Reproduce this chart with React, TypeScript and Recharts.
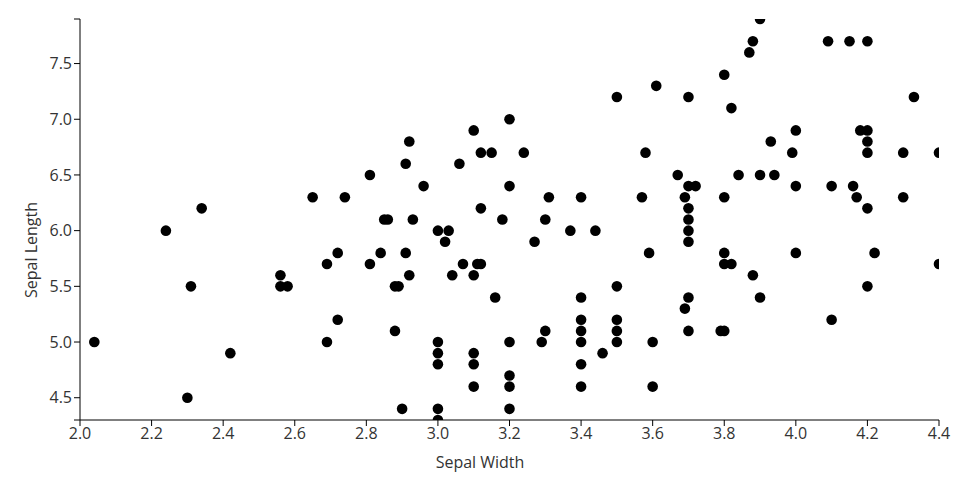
import React from 'react';
import { ScatterChart, Scatter, XAxis, YAxis, Label } from 'recharts';

// sepal width (slightly jittered) / sepal length
const sepalWidth = [
  2.04, 2.24, 2.30, 2.31, 2.34, 2.42, 2.56, 2.56, 2.58, 2.65,
  2.69, 2.69, 2.72, 2.72, 2.74, 2.81, 2.81, 2.84, 2.85, 2.86,
  2.88, 2.89, 2.88, 2.90, 2.91, 2.91, 2.92, 2.92, 2.93, 2.96,
  3.00, 3.00, 3.00, 3.00, 3.00, 3.00, 3.02, 3.03, 3.04, 3.06,
  3.07, 3.10, 3.10, 3.10, 3.10, 3.10, 3.11, 3.12, 3.12, 3.12,
  3.15, 3.16, 3.18, 3.20, 3.20, 3.20, 3.20, 3.20, 3.20, 3.24,
  3.27, 3.29, 3.30, 3.30, 3.31, 3.37, 3.40, 3.40, 3.40, 3.40,
  3.40, 3.40, 3.40, 3.44, 3.46, 3.50, 3.50, 3.50, 3.50, 3.50,
  3.57, 3.58, 3.59, 3.60, 3.60, 3.61, 3.67, 3.69, 3.69, 3.70,
  3.70, 3.70, 3.70, 3.70, 3.70, 3.70, 3.70, 3.72, 3.79, 3.80,
  3.80, 3.80, 3.80, 3.80, 3.82, 3.82, 3.84, 3.87, 3.88, 3.88,
  3.90, 3.90, 3.90, 3.93, 3.94, 3.99, 4.00, 4.00, 4.00, 4.09,
  4.10, 4.10, 4.15, 4.16, 4.17, 4.18, 4.20, 4.20, 4.20, 4.20,
  4.20, 4.20, 4.22, 4.30, 4.30, 4.33, 4.40, 4.40,
];

const sepalLength = [
  5.0, 6.0, 4.5, 5.5, 6.2, 4.9, 5.6, 5.5, 5.5, 6.3,
  5.7, 5.0, 5.8, 5.2, 6.3, 6.5, 5.7, 5.8, 6.1, 6.1,
  5.5, 5.5, 5.1, 4.4, 6.6, 5.8, 6.8, 5.6, 6.1, 6.4,
  6.0, 5.0, 4.9, 4.8, 4.4, 4.3, 5.9, 6.0, 5.6, 6.6,
  5.7, 6.9, 5.6, 4.9, 4.8, 4.6, 5.7, 5.7, 6.7, 6.2,
  6.7, 5.4, 6.1, 7.0, 6.4, 5.0, 4.7, 4.6, 4.4, 6.7,
  5.9, 5.0, 6.1, 5.1, 6.3, 6.0, 6.3, 5.4, 5.2, 5.1,
  5.0, 4.8, 4.6, 6.0, 4.9, 7.2, 5.5, 5.2, 5.1, 5.0,
  6.3, 6.7, 5.8, 5.0, 4.6, 7.3, 6.5, 6.3, 5.3, 7.2,
  6.4, 6.2, 6.1, 6.0, 5.9, 5.4, 5.1, 6.4, 5.1, 5.1,
  7.4, 6.3, 5.8, 5.7, 5.7, 7.1, 6.5, 7.6, 7.7, 5.6,
  7.9, 6.5, 5.4, 6.8, 6.5, 6.7, 6.9, 6.4, 5.8, 7.7,
  6.4, 5.2, 7.7, 6.4, 6.3, 6.9, 7.7, 6.9, 6.8, 6.7,
  6.2, 5.5, 5.8, 6.7, 6.3, 7.2, 6.7, 5.7,
];

const xTicks = [2.0, 2.2, 2.4, 2.6, 2.8, 3.0, 3.2, 3.4, 3.6, 3.8, 4.0, 4.2, 4.4];
// 4.3 and 7.9 are the domain ends: drawn as outer ticks without a label
const yTicks = [4.3, 4.5, 5.0, 5.5, 6.0, 6.5, 7.0, 7.5, 7.9];

const points = sepalWidth.map((w, i) => ({ width: w, length: sepalLength[i] }));

const FONT = '"Open Sans", sans-serif';
const textStyle = { fontFamily: FONT, fontSize: 16, fill: '#333' };

const Dot = (props: any) => <circle cx={props.cx} cy={props.cy} r={5.3} fill="#000" />;

const XTick = (p: any) => (
  <text x={p.x} y={p.y} dy="0.71em" textAnchor="middle" style={textStyle}>
    {Number(p.payload.value).toFixed(1)}
  </text>
);

const YTick = (p: any) => {
  const v = Number(p.payload.value);
  if (v === 4.3 || v === 7.9) return <g />;
  return (
    <text x={p.x} y={p.y} dy="0.35em" textAnchor="end" style={textStyle}>
      {v.toFixed(1)}
    </text>
  );
};

export default function App() {
  return (
    <div style={{ position: 'absolute', left: 0, top: 0, background: '#fff' }}>
      <ScatterChart width={960} height={500} margin={{ top: 19, right: 21, bottom: 20, left: 0 }}>
        <XAxis
          type="number"
          dataKey="width"
          domain={[2.0, 4.4]}
          ticks={xTicks}
          height={60}
          stroke="#000"
          tick={XTick}
          interval={0}
          allowDataOverflow
        >
          <Label
            content={() => (
              <text x={480} y={462} textAnchor="middle" dominantBaseline="central" style={textStyle}>
                Sepal Width
              </text>
            )}
          />
        </XAxis>
        <YAxis
          type="number"
          dataKey="length"
          domain={[4.3, 7.9]}
          ticks={yTicks}
          width={80}
          stroke="#000"
          tick={YTick}
          interval={0}
          allowDataOverflow
        >
          <Label
            content={() => (
              <text x={31} y={250} textAnchor="middle" dominantBaseline="central"
                transform="rotate(-90 31 250)" style={textStyle}>
                Sepal Length
              </text>
            )}
          />
        </YAxis>
        <Scatter data={points} shape={Dot} isAnimationActive={false} />
      </ScatterChart>
    </div>
  );
}
